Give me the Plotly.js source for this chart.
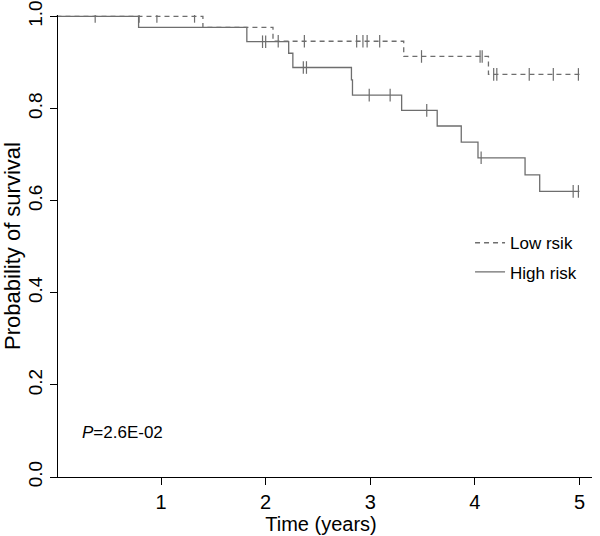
<!DOCTYPE html>
<html>
<head>
<meta charset="utf-8">
<script src="https://cdn.plot.ly/plotly-3.0.1.min.js"></script>
<style>html,body{margin:0;padding:0;background:#fff;}#chart{width:600px;height:536px;}</style>
</head>
<body>
<div id="chart"></div>
<script>
// Kaplan-Meier step data
const lowTimes = [0, 1.40, 2.07, 3.32, 4.13, 5.0];
const lowSurv  = [1, 0.976, 0.946, 0.913, 0.874, 0.874];
const lowCensor = [0.79, 0.96, 1.32, 2.12, 2.37, 2.87, 2.93, 2.97, 3.09, 3.49, 4.05, 4.07, 4.18, 4.21, 4.52, 4.75, 4.99];

const highTimes = [0, 0.785, 1.82, 2.22, 2.26, 2.82, 2.83, 3.30, 3.64, 3.87, 4.03, 4.48, 4.62, 5.0];
const highSurv  = [1, 0.976, 0.945, 0.920, 0.889, 0.862, 0.829, 0.796, 0.762, 0.727, 0.693, 0.656, 0.620, 0.620];
const highCensor = [0.37, 1.97, 2.00, 2.36, 2.39, 2.99, 3.19, 3.54, 4.06, 4.94, 4.99];

const seriesNames = ['Low rsik', 'High risk'];
const xTicks = [1, 2, 3, 4, 5];
const yTicks = [0, 0.2, 0.4, 0.6, 0.8, 1.0];
const yTickText = ['0.0', '0.2', '0.4', '0.6', '0.8', '1.0'];
const pText = '<i>P</i>=2.6E-02';

function stepAt(times, surv, t) {
  let v = surv[0];
  for (let i = 0; i < times.length; i++) { if (times[i] <= t) v = surv[i]; }
  return v;
}

const lineColor = '#6e6e6e';
const font = 'Liberation Sans, Arial, sans-serif';

const traces = [
  {x: lowTimes, y: lowSurv, mode: 'lines', line: {shape: 'hv', color: lineColor, width: 1.3, dash: '5px,4px'}, name: seriesNames[0], legendgroup: 'a'},
  {x: highTimes, y: highSurv, mode: 'lines', line: {shape: 'hv', color: lineColor, width: 1.3}, name: seriesNames[1], legendgroup: 'b'},
  {x: lowCensor, y: lowCensor.map(t => stepAt(lowTimes, lowSurv, t)), mode: 'markers', showlegend: false, legendgroup: 'a',
   marker: {symbol: 'line-ns', size: 9, line: {width: 1.2, color: lineColor}}, hoverinfo: 'skip'},
  {x: highCensor, y: highCensor.map(t => stepAt(highTimes, highSurv, t)), mode: 'markers', showlegend: false, legendgroup: 'b',
   marker: {symbol: 'line-ns', size: 9, line: {width: 1.2, color: lineColor}}, hoverinfo: 'skip'}
];

const layout = {
  width: 600, height: 536,
  margin: {l: 50, r: 8, t: 15, b: 59},
  paper_bgcolor: '#fff', plot_bgcolor: '#fff',
  font: {family: font, color: '#000', size: 20},
  showlegend: true,
  legend: {x: 0.775, y: 0.545, xanchor: 'left', yanchor: 'top', traceorder: 'grouped', tracegroupgap: 4,
           font: {size: 17, family: font}, bgcolor: 'rgba(0,0,0,0)'},
  xaxis: {
    range: [-0.062, 5.12], showgrid: false, zeroline: false,
    showline: true, linecolor: '#000', linewidth: 1,
    ticks: 'outside', ticklen: 7, tickcolor: '#000',
    tickvals: xTicks, tickfont: {size: 20},
    title: {text: 'Time (years)', font: {size: 20}, standoff: 3}
  },
  yaxis: {
    range: [0, 1.003], showgrid: false, zeroline: false,
    anchor: 'free', position: 0.012,
    showline: true, linecolor: '#000', linewidth: 1,
    ticks: 'outside', ticklen: 7, tickcolor: '#000', ticklabeloverflow: 'allow',
    tickvals: yTicks, ticktext: yTickText, tickangle: -90, tickfont: {size: 19},
    title: {text: 'Probability of survival', font: {size: 22}, standoff: 2}
  },
  annotations: [
    {x: 0.22, y: 0.097, xref: 'x', yref: 'y', text: pText, showarrow: false, xanchor: 'left', yanchor: 'middle', font: {size: 17, family: font}}
  ]
};

Plotly.newPlot('chart', traces, layout, {displayModeBar: false, staticPlot: true});
</script>
</body>
</html>
